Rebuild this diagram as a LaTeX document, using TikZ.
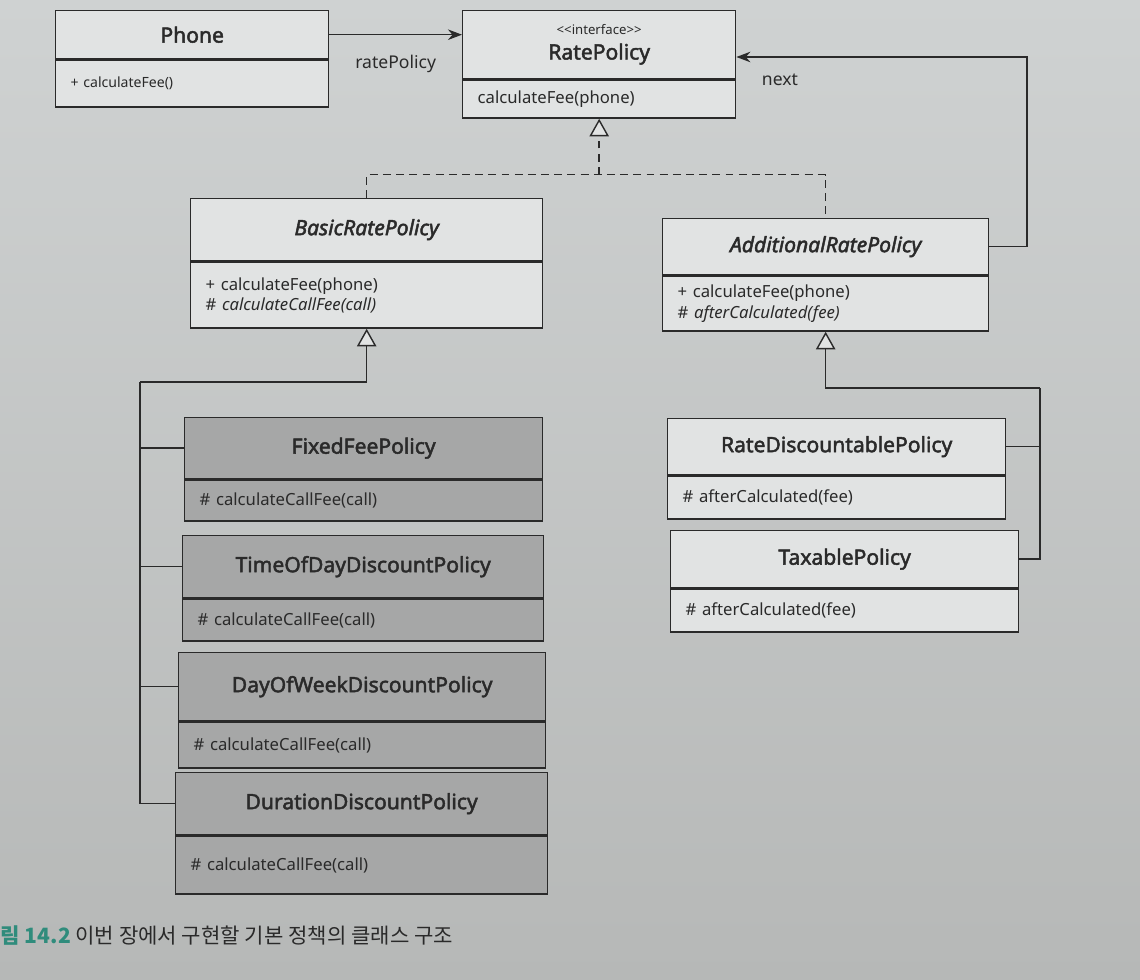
\documentclass[tikz,border=0pt]{standalone}
\usepackage{fontspec}
\setsansfont{Noto Sans}[AutoFakeBold=2.2, BoldItalicFont={Noto Sans Italic}, BoldItalicFeatures={FakeBold=2.2}]
\newfontfamily\krfont{Noto Sans CJK KR}
\usepackage{tikz}
\usetikzlibrary{positioning}
\usetikzlibrary{arrows.meta}
\definecolor{page}{HTML}{CFD2D2}
\definecolor{pagedark}{HTML}{B6B8B7}
\definecolor{boxwhite}{HTML}{E1E3E3}
\definecolor{boxgray}{HTML}{A6A7A7}
\definecolor{ink}{HTML}{2A2A2A}
\definecolor{captionteal}{HTML}{2F8C7C}

\begin{document}
\begin{tikzpicture}[
            x = 0.02cm, y = -0.02cm, % one unit = one pixel of the page
            > = {Stealth[length=8pt, width=6pt]}, % arrow head style
            line width = 0.8pt,
            color = ink
            ]

        \tikzstyle{head}=[
            draw,
            fill = boxwhite,
            anchor = north west,
            inner sep = 0pt,
            align = center,
            font = \sffamily\bfseries\fontsize{12}{14}\selectfont
        ]
        \tikzstyle{ops}=[
            draw,
            fill = boxwhite,
            inner xsep = 0.3cm,
            inner ysep = 0pt,
            align = left,
            font = \sffamily\fontsize{9.5}{11.5}\selectfont
        ]
        \tikzstyle{sub}=[fill = boxgray]
        \tikzstyle{gen}=[-{Triangle[width=11pt, length=10pt, fill=boxwhite]}]
        \tikzstyle{real}=[gen, dash pattern=on 4.5pt off 3pt]

        % page
        \shade[top color=page, bottom color=pagedark] (0,0) rectangle (1140,980);
        \useasboundingbox (0,0) rectangle (1140,980);

	% client and interface
        \node[head, minimum width=5.46cm, minimum height=0.96cm] (P) at (55,10) {Phone};
        \node[ops, text width=4.86cm, minimum height=0.94cm, font=\sffamily\fontsize{8}{10}\selectfont] (Pm) [below=0pt of P] {+ calculateFee()};

        \node[head, minimum width=5.46cm, minimum height=1.36cm] (RP) at (462,10) {{\mdseries\fontsize{7.5}{9}\selectfont <\kern0pt<interface>\kern0pt>}\\RatePolicy};
        \node[ops, text width=4.86cm, minimum height=0.76cm] (RPm) [below=0pt of RP] {calculateFee(phone)};

        \path[->] (P.east) edge node[below=8pt, font=\sffamily\fontsize{10}{12}\selectfont] {ratePolicy} (P.east -| RP.west);

	% abstract classes
        \node[head, minimum width=7.04cm, minimum height=1.24cm] (BR) at (190,198) {\itshape BasicRatePolicy};
        \node[ops, text width=6.44cm, minimum height=1.32cm] (BRm) [below=0pt of BR] {+ calculateFee(phone)\\\# \textit{calculateCallFee(call)}};

        \node[head, minimum width=6.52cm, minimum height=1.12cm] (AR) at (662,218) {\itshape AdditionalRatePolicy};
        \node[ops, text width=5.92cm, minimum height=1.1cm] (ARm) [below=0pt of AR] {+ calculateFee(phone)\\\# \textit{afterCalculated(fee)}};

        % realization
        \coordinate[below=1.12cm of RPm] (J1);
        \draw[dash pattern=on 4.5pt off 3pt] (BR.north) |- (J1) -| (AR.north);
        \draw[real] (J1) -- (RPm.south);

        % next link
        \coordinate (nx) at (1027,57);
        \draw[->] (AR.east) -| (nx) -- node[below=6pt, pos=0.85, font=\sffamily\fontsize{10}{12}\selectfont] {next} (nx -| RPm.east);

	% basic policies
        \node[head, sub, minimum width=7.16cm, minimum height=1.22cm] (FF) at (184,417) {FixedFeePolicy};
        \node[ops, sub, text width=6.56cm, minimum height=0.82cm] (FFm) [below=0pt of FF] {\# calculateCallFee(call)};

        \node[head, sub, minimum width=7.22cm, minimum height=1.24cm] (TD) at (182,535) {TimeOfDayDiscountPolicy};
        \node[ops, sub, text width=6.62cm, minimum height=0.84cm] (TDm) [below=0pt of TD] {\# calculateCallFee(call)};

        \node[head, sub, minimum width=7.34cm, minimum height=1.36cm] (DW) at (178,652) {DayOfWeekDiscountPolicy};
        \node[ops, sub, text width=6.74cm, minimum height=0.92cm] (DWm) [below=0pt of DW] {\# calculateCallFee(call)};

        \node[head, sub, minimum width=7.44cm, minimum height=1.24cm] (DD) at (175,772) {DurationDiscountPolicy};
        \node[ops, sub, text width=6.84cm, minimum height=1.16cm] (DDm) [below=0pt of DD] {\# calculateCallFee(call)};

        \coordinate (L1) at (140,382);
        \draw[gen] (L1) -| (BRm.south);
        \draw (L1) |- (FF.west);
        \draw (L1) |- (TD.west);
        \draw (L1) |- (DW.west);
        \draw (L1) |- (DD.west);

	% additional policies
        \node[head, minimum width=6.76cm, minimum height=1.12cm] (RD) at (667,418) {RateDiscountablePolicy};
        \node[ops, text width=6.16cm, minimum height=0.86cm] (RDm) [below=0pt of RD] {\# afterCalculated(fee)};

        \node[head, minimum width=6.96cm, minimum height=1.14cm] (TX) at (670,530) {TaxablePolicy};
        \node[ops, text width=6.36cm, minimum height=0.86cm] (TXm) [below=0pt of TX] {\# afterCalculated(fee)};

        \coordinate (R1) at (1040,388);
        \draw[gen] (R1) -| (ARm.south);
        \draw (R1) |- (RD.east);
        \draw (R1) |- (TX.east);

        % caption
        \node[anchor=west, inner sep=0pt, font=\krfont\fontsize{12}{14}\selectfont] (cap) at (0,936) {\textcolor{captionteal}{\bfseries 림 14.2} 이번 장에서 구현할 기본 정책의 클래스 구조};

\end{tikzpicture}
\end{document}
